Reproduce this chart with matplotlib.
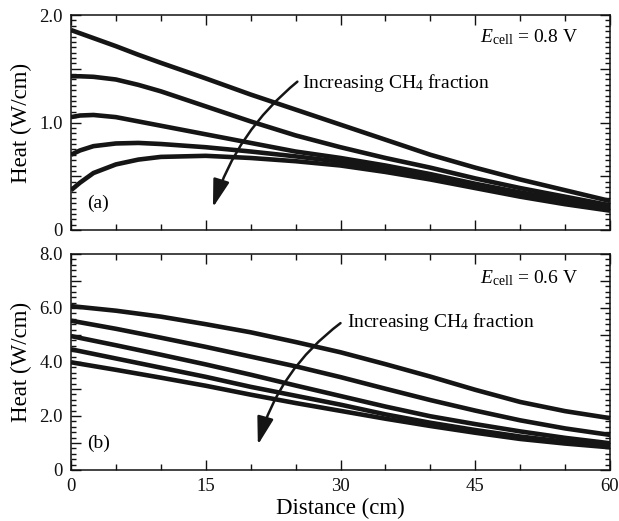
import numpy as np
import matplotlib
matplotlib.use("Agg")
import matplotlib.pyplot as plt
from matplotlib.ticker import MultipleLocator, FuncFormatter

plt.rcParams['font.family'] = ['Liberation Serif', 'DejaVu Serif']
plt.rcParams['mathtext.fontset'] = 'custom'
plt.rcParams['mathtext.rm'] = 'Liberation Serif'
plt.rcParams['mathtext.it'] = 'Liberation Serif:italic'

# ---- data: panel (a), Ecell = 0.8 V ----
x_a = [0, 1, 2.5, 5, 7.5, 10, 15, 20, 25, 30, 35, 40, 45, 50, 55, 60]
a1 = [1.86, 1.83, 1.785, 1.71, 1.63, 1.555, 1.41, 1.26, 1.12, 0.98, 0.84, 0.70, 0.58, 0.47, 0.37, 0.27]
a2 = [1.43, 1.43, 1.425, 1.40, 1.35, 1.29, 1.15, 1.01, 0.88, 0.77, 0.67, 0.58, 0.48, 0.39, 0.31, 0.23]
a3 = [1.05, 1.065, 1.07, 1.05, 1.01, 0.97, 0.89, 0.81, 0.73, 0.67, 0.60, 0.52, 0.43, 0.35, 0.28, 0.22]
a4 = [0.70, 0.74, 0.78, 0.805, 0.81, 0.80, 0.77, 0.73, 0.685, 0.635, 0.57, 0.49, 0.41, 0.33, 0.26, 0.20]
a5 = [0.37, 0.44, 0.53, 0.61, 0.655, 0.68, 0.69, 0.67, 0.64, 0.60, 0.54, 0.47, 0.39, 0.31, 0.24, 0.18]

# ---- data: panel (b), Ecell = 0.6 V ----
x_b = [0, 5, 10, 15, 20, 25, 30, 35, 40, 45, 50, 55, 60]
b1 = [6.07, 5.90, 5.68, 5.40, 5.10, 4.74, 4.36, 3.92, 3.46, 2.97, 2.52, 2.18, 1.92]
b2 = [5.53, 5.23, 4.90, 4.56, 4.20, 3.84, 3.44, 3.01, 2.59, 2.20, 1.84, 1.54, 1.30]
b3 = [4.96, 4.62, 4.27, 3.91, 3.53, 3.13, 2.74, 2.35, 1.99, 1.70, 1.43, 1.19, 0.99]
b4 = [4.47, 4.13, 3.79, 3.45, 3.08, 2.75, 2.42, 2.06, 1.75, 1.48, 1.24, 1.05, 0.90]
b5 = [3.99, 3.71, 3.42, 3.12, 2.79, 2.48, 2.19, 1.90, 1.63, 1.38, 1.15, 0.98, 0.84]

xticks = [0, 15, 30, 45, 60]

LC = '#151515'
LW = 3.3

fig = plt.figure(figsize=(6.19, 5.21), dpi=100)
W, H = 619.0, 521.0
ax_a = fig.add_axes([71 / W, 1 - 230 / H, 539 / W, 215 / H])
ax_b = fig.add_axes([71 / W, 1 - 470 / H, 539 / W, 216 / H])


def ylab(v):
    if abs(v) < 1e-9:
        return '0'
    return '%.1f' % v


def style(ax, ymax, ymajor, ymid, yminor, labels_x):
    ax.set_xlim(0, 60)
    ax.set_ylim(0, ymax)
    ax.xaxis.set_major_locator(MultipleLocator(15))
    ax.xaxis.set_minor_locator(MultipleLocator(5))
    ax.yaxis.set_major_locator(MultipleLocator(ymid))
    ax.yaxis.set_minor_locator(MultipleLocator(yminor))
    ax.yaxis.set_major_formatter(FuncFormatter(
        lambda v, p: ylab(v) if abs(v / ymajor - round(v / ymajor)) < 1e-6 else ''))
    ax.tick_params(which='both', direction='in', top=True, right=True,
                   labelsize=13.5, width=1.0, colors='#111111')
    ax.tick_params(axis='y', which='major', length=7, pad=6)
    ax.tick_params(axis='y', which='minor', length=3.5)
    ax.tick_params(axis='x', which='major', length=7, pad=6)
    ax.tick_params(axis='x', which='minor', length=4.5)
    if not labels_x:
        ax.tick_params(axis='x', labelbottom=False)
    for s in ax.spines.values():
        s.set_linewidth(1.1)
        s.set_color('#111111')
    ax.set_ylabel('Heat (W/cm)', fontsize=16.5)
    ax.yaxis.set_label_coords(-0.072, 0.5)


for ys in (a1, a2, a3, a4, a5):
    ax_a.plot(x_a, ys, color=LC, lw=LW, solid_capstyle='butt', solid_joinstyle='round')
for ys in (b1, b2, b3, b4, b5):
    ax_b.plot(x_b, ys, color=LC, lw=LW, solid_capstyle='butt', solid_joinstyle='round')

style(ax_a, 2.0, 1.0, 0.5, 0.05, False)
style(ax_b, 8.0, 2.0, 1.0, 0.2, True)
ax_b.set_xticks(xticks)
ax_b.set_xlabel('Distance (cm)', fontsize=16.5, labelpad=2)

arrow_kw = dict(arrowstyle='-|>,head_length=1.7,head_width=0.5', color=LC, lw=1.8,
                shrinkA=0, shrinkB=0)

# panel (a) annotations
ax_a.text(25.7, 1.37, r'Increasing CH$_4$ fraction', fontsize=14, va='center', ha='left')
ax_a.annotate('', xy=(15.8, 0.21), xytext=(25.2, 1.38),
              arrowprops=dict(connectionstyle='arc3,rad=0.15', **arrow_kw))
ax_a.text(56.4, 1.79, r'$\mathit{E}_{\mathrm{cell}}$ = 0.8 V', fontsize=14, va='center', ha='right')
ax_a.text(1.8, 0.25, '(a)', fontsize=14, va='center', ha='left')

# panel (b) annotations
ax_b.text(30.7, 5.48, r'Increasing CH$_4$ fraction', fontsize=14, va='center', ha='left')
ax_b.annotate('', xy=(20.8, 0.93), xytext=(30.0, 5.44),
              arrowprops=dict(connectionstyle='arc3,rad=0.17', **arrow_kw))
ax_b.text(56.4, 7.11, r'$\mathit{E}_{\mathrm{cell}}$ = 0.6 V', fontsize=14, va='center', ha='right')
ax_b.text(1.8, 1.0, '(b)', fontsize=14, va='center', ha='left')

fig.savefig('out.png', dpi=100)
